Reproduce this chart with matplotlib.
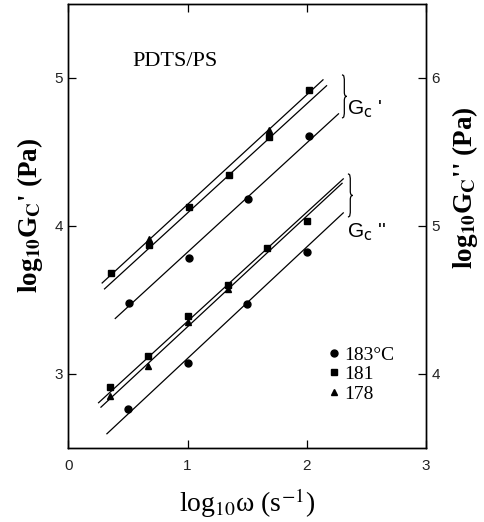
import matplotlib
matplotlib.use("Agg")
import matplotlib.pyplot as plt
from matplotlib.path import Path
from matplotlib.patches import PathPatch

plt.rcParams['mathtext.fontset'] = 'stix'

# ---- data (left-axis units, log10 G' scale; right axis = left + 1) ----
gp_183_x = [0.51, 1.01, 1.51, 2.02]
gp_183_y = [3.48, 3.78, 4.18, 4.61]
gp_181_x = [0.36, 0.68, 1.01, 1.35, 1.68, 2.02]
gp_181_y = [3.68, 3.87, 4.13, 4.34, 4.60, 4.92]
gp_178_x = [0.68, 1.68]
gp_178_y = [3.91, 4.65]

gpp_183_x = [0.50, 1.00, 1.50, 2.00]
gpp_183_y = [2.76, 3.07, 3.47, 3.82]
gpp_181_x = [0.35, 0.67, 1.00, 1.34, 1.67, 2.00]
gpp_181_y = [2.91, 3.12, 3.39, 3.60, 3.85, 4.03]
gpp_178_x = [0.35, 0.67, 1.00, 1.34]
gpp_178_y = [2.85, 3.05, 3.35, 3.57]

# fitted lines: (x_start, x_end), (y_start, y_end)
fit_x = [(0.28, 2.14), (0.30, 2.17), (0.39, 2.27),
         (0.25, 2.31), (0.27, 2.30), (0.32, 2.31)]
fit_y = [(3.61, 4.99), (3.57, 4.95), (3.37, 4.76),
         (2.80, 4.32), (2.77, 4.29), (2.59, 4.09)]

xticks = [0, 1, 2, 3]
yticks_left = [3, 4, 5]
yticks_right = [4, 5, 6]
legend_labels = ['183°C', '181', '178']

W, H = 484, 522
fig = plt.figure(figsize=(W / 100, H / 100), dpi=100)
ax = fig.add_axes([68.3 / W, (H - 447.5) / H, (426 - 68.3) / W, (447.5 - 4) / H])

for xs, ys in zip(fit_x, fit_y):
    ax.plot(xs, ys, color='black', lw=0.9, solid_capstyle='butt')

ms = 5
hc, = ax.plot(gp_183_x, gp_183_y, 'o', color='black', ms=ms, ls='none')
ax.plot(gpp_183_x, gpp_183_y, 'o', color='black', ms=ms, ls='none')
ht, = ax.plot(gp_178_x, gp_178_y, '^', color='black', ms=ms, ls='none')
ax.plot(gpp_178_x, gpp_178_y, '^', color='black', ms=ms, ls='none')
hs, = ax.plot(gp_181_x, gp_181_y, 's', color='black', ms=ms - 0.5, ls='none')
ax.plot(gpp_181_x, gpp_181_y, 's', color='black', ms=ms - 0.5, ls='none')

ax.set_xlim(0, 3)
ax.set_ylim(2.5, 5.5)
ax.set_xticks(xticks)
ax.set_yticks(yticks_left)
tickfont = dict(family='Liberation Sans', size=11)
ax.set_xticklabels([str(v) for v in xticks], fontdict=tickfont, color='#222222')
ax.set_yticklabels([str(v) for v in yticks_left], fontdict=tickfont, color='#222222')
ax.tick_params(direction='in', length=6, width=0.9, top=True, right=False)
ax.tick_params(axis='x', pad=8)
ax.tick_params(axis='y', pad=4)

ax2 = ax.twinx()
ax2.set_ylim(3.5, 6.5)
ax2.set_yticks(yticks_right)
ax2.set_yticklabels([str(v) for v in yticks_right], fontdict=tickfont, color='#222222')
ax2.tick_params(direction='in', length=6, width=0.9, pad=4)

for a in (ax, ax2):
    for s in a.spines.values():
        s.set_linewidth(1.0)

serif = 'Liberation Serif'
ax.set_xlabel(r'log$_{\mathrm{10}}$ω (s$^{\mathrm{-1}}$)', family=serif, fontsize=20, labelpad=10)
ax.set_ylabel(r"log$_{\mathbf{10}}$G$_{\mathbf{C}}$' (Pa)", family=serif, fontsize=19.5,
              fontweight='bold')
ax.yaxis.set_label_coords(-0.064, 0.524)
ax2.set_ylabel(r"log$_{\mathbf{10}}$G$_{\mathbf{C}}$'' (Pa)", family=serif, fontsize=19.5,
               fontweight='bold')
ax2.yaxis.set_label_coords(1.068, 0.585)

ax.text(0.54, 5.11, 'PDTS/PS', family=serif, fontsize=16, va='center', ha='left')

# braces
def brace(x0, y0, y1, w):
    h = y1 - y0
    pts = [(0, 1), (0.5, 1), (0.5, 0.95), (0.5, 0.8),
           (0.5, 0.6),
           (0.5, 0.53), (0.7, 0.5), (1.0, 0.5),
           (0.7, 0.5), (0.5, 0.47), (0.5, 0.4),
           (0.5, 0.2),
           (0.5, 0.05), (0.5, 0.0), (0, 0)]
    codes = [Path.MOVETO, Path.CURVE4, Path.CURVE4, Path.CURVE4,
             Path.LINETO,
             Path.CURVE4, Path.CURVE4, Path.CURVE4,
             Path.CURVE4, Path.CURVE4, Path.CURVE4,
             Path.LINETO,
             Path.CURVE4, Path.CURVE4, Path.CURVE4]
    verts = [(x0 + px * w, y0 + py * h) for px, py in pts]
    ax.add_patch(PathPatch(Path(verts, codes), fill=False, lw=0.9, color='black'))

brace(2.295, 4.73, 5.02, 0.04)
brace(2.345, 4.06, 4.35, 0.04)

ax.text(2.34, 4.755, r"G$_{\mathrm{c}}$ '", family='Liberation Sans', fontsize=15,
        va='baseline', math_fontfamily='dejavusans')
ax.text(2.34, 3.92, r"G$_{\mathrm{c}}$ ''", family='Liberation Sans', fontsize=15,
        va='baseline', math_fontfamily='dejavusans')

leg = ax.legend([hc, hs, ht], legend_labels, loc='upper left',
                bbox_to_anchor=(0.72, 0.229), frameon=False,
                prop=dict(family=serif, size=14), handlelength=0.8,
                handletextpad=0.15, labelspacing=0.1, borderpad=0, borderaxespad=0,
                numpoints=1)

fig.savefig('out.png', dpi=100)
